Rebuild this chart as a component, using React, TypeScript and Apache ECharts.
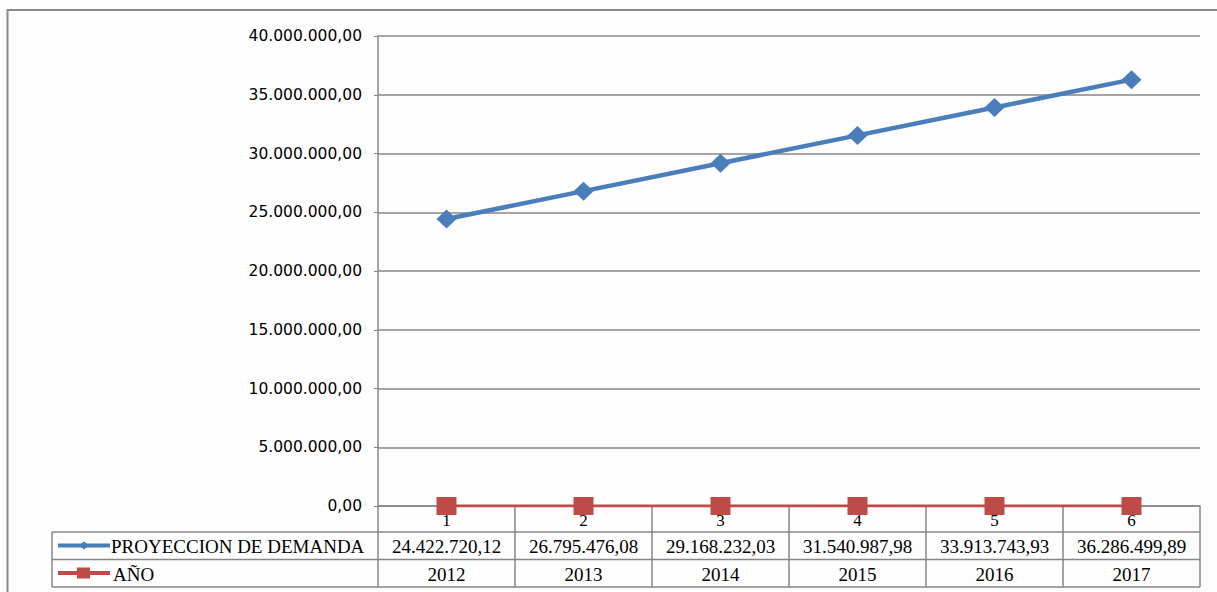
import React, { useEffect, useRef } from "react";
import * as echarts from "echarts";

const categories = ["1", "2", "3", "4", "5", "6"];
const demandName = "PROYECCION DE DEMANDA";
const demandValues = [24422720.12, 26795476.08, 29168232.03, 31540987.98, 33913743.93, 36286499.89];
const yearName = "AÑO";
const yearValues = [2012, 2013, 2014, 2015, 2016, 2017];
const yTicks = { min: 0, max: 40000000, interval: 5000000 };

const BLUE = "#4A7EBB";
const RED = "#BE4B48";
const GRID = "#868686";

// Spanish-style number formatting: 36.286.499,89
function fmt(v: number): string {
  const [ip, dp] = v.toFixed(2).split(".");
  return ip.replace(/\B(?=(\d{3})+(?!\d))/g, ".") + "," + dp;
}

export default function App() {
  const ref = useRef<HTMLDivElement>(null);

  useEffect(() => {
    if (!ref.current) return;
    const chart = echarts.init(ref.current, null, { renderer: "svg" });

    const gridLeft = 378;
    const gridTop = 36;
    const gridRight = 1200;
    const gridBottom = 506;

    chart.setOption({
      animation: false,
      backgroundColor: "#fdfdfd",
      grid: {
        left: gridLeft,
        top: gridTop,
        width: gridRight - gridLeft,
        height: gridBottom - gridTop,
        containLabel: false,
      },
      xAxis: {
        type: "category",
        data: categories,
        boundaryGap: true,
        axisLine: { show: true, lineStyle: { color: GRID, width: 1.5 } },
        axisTick: { show: true, interval: 0, length: 81, lineStyle: { color: GRID, width: 1.5 } },
        axisLabel: {
          margin: 6,
          color: "#000",
          fontFamily: "Liberation Serif",
          fontSize: 17,
        },
        splitLine: { show: false },
      },
      yAxis: {
        type: "value",
        min: yTicks.min,
        max: yTicks.max,
        interval: yTicks.interval,
        axisLine: { show: true, lineStyle: { color: GRID, width: 1.5 } },
        axisTick: { show: true, length: 4, lineStyle: { color: GRID } },
        axisLabel: {
          margin: 16,
          color: "#000",
          fontFamily: "DejaVu Sans",
          fontSize: 15.5,
          formatter: (v: number) => fmt(v),
        },
        splitLine: { show: true, lineStyle: { color: GRID, width: 1.5 } },
      },
      series: [
        {
          name: demandName,
          type: "line",
          data: demandValues,
          symbol: "diamond",
          symbolSize: [20, 19],
          lineStyle: { color: BLUE, width: 4.5 },
          itemStyle: { color: BLUE },
          z: 3,
        },
        {
          name: yearName,
          type: "line",
          data: yearValues,
          symbol: "rect",
          symbolSize: [20, 18],
          lineStyle: { color: RED, width: 3 },
          itemStyle: { color: RED },
          z: 4,
        },
      ],
    });

    // Data table below the plot, aligned with the category axis
    const tableLeft = 52;
    const rowTops = [532, 559.5, 587];
    const rowMid = [545.5, 573];
    const cx = categories.map((_, i) => chart.convertToPixel({ xAxisIndex: 0 }, i) as number);
    const lineStyle = { stroke: GRID, lineWidth: 1.5 };
    const elements: any[] = [];

    // outer chart frame
    elements.push({
      type: "rect",
      shape: { x: 7.5, y: 10, width: 1300, height: 700 },
      style: { fill: null, stroke: "#8a8a8a", lineWidth: 2 },
      silent: true,
    });

    rowTops.forEach((y) => {
      elements.push({ type: "line", shape: { x1: tableLeft, y1: y, x2: gridRight, y2: y }, style: lineStyle });
    });
    elements.push({ type: "line", shape: { x1: tableLeft, y1: rowTops[0], x2: tableLeft, y2: rowTops[2] }, style: lineStyle });

    // row keys
    elements.push({ type: "line", shape: { x1: 58, y1: rowMid[0], x2: 110, y2: rowMid[0] }, style: { stroke: BLUE, lineWidth: 4 } });
    elements.push({
      type: "polygon",
      shape: { points: [[84, rowMid[0] - 4], [89, rowMid[0]], [84, rowMid[0] + 4], [79, rowMid[0]]] },
      style: { fill: BLUE },
    });
    elements.push({ type: "line", shape: { x1: 58, y1: rowMid[1], x2: 110, y2: rowMid[1] }, style: { stroke: RED, lineWidth: 4 } });
    elements.push({ type: "rect", shape: { x: 77, y: rowMid[1] - 5.5, width: 13, height: 11 }, style: { fill: RED } });

    const headFont = { fontFamily: "Liberation Serif", fontSize: 19, fill: "#000" };
    elements.push({
      type: "text",
      x: 111,
      y: rowMid[0] + 1,
      style: { ...headFont, text: demandName, verticalAlign: "middle", align: "left" },
    });
    elements.push({
      type: "text",
      x: 113,
      y: rowMid[1] + 1,
      style: { ...headFont, text: yearName, verticalAlign: "middle", align: "left" },
    });

    const cellFont = { fontFamily: "Liberation Serif", fontSize: 19, fill: "#000" };
    demandValues.forEach((v, i) => {
      elements.push({
        type: "text",
        x: cx[i],
        y: rowMid[0] + 1,
        style: { ...cellFont, text: fmt(v), align: "center", verticalAlign: "middle" },
      });
    });
    yearValues.forEach((v, i) => {
      elements.push({
        type: "text",
        x: cx[i],
        y: rowMid[1] + 1,
        style: { ...cellFont, text: String(v), align: "center", verticalAlign: "middle" },
      });
    });

    chart.setOption({ graphic: { elements } });

    return () => chart.dispose();
  }, []);

  return (
    <div
      ref={ref}
      style={{ position: "fixed", left: 0, top: 0, width: 1217, height: 592 }}
    />
  );
}
